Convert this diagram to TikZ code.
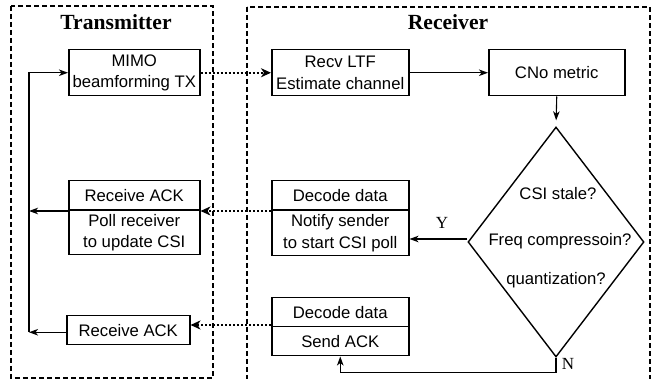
\documentclass[tikz,border=0pt]{standalone}
\usepackage{fontspec}
\setmainfont{Liberation Serif}
\newfontfamily\helv{Liberation Sans}
\usetikzlibrary{arrows.meta,shapes.geometric}
\newcommand\boxfont{\helv\fontsize{16.7pt}{21.5pt}\selectfont}
\newcommand\titlefont{\bfseries\fontsize{21.6pt}{24pt}\selectfont}
\newcommand\markfont{\fontsize{17pt}{20pt}\selectfont}
\tikzset{
  panel/.style={draw, line width=1.4pt, dash pattern=on 5pt off 3pt},
  block/.style={draw, line width=1.5pt, anchor=north west, inner sep=0pt,
    align=center, font=\boxfont},
  flow/.style={line width=1.1pt, -{Stealth[length=9pt,width=6.5pt,inset=2.5pt]}},
  link/.style={line width=2pt, dash pattern=on 2pt off 2pt,
    -{Stealth[length=10pt,width=9pt,inset=3pt]}},
  tag/.style={font=\markfont, inner sep=0pt},
}
\begin{document}
\begin{tikzpicture}[x=1pt,y=-1pt]
\useasboundingbox (0,0) rectangle (654,379);

% the two sides of the link
\draw[panel] (11,6) rectangle (213,378);
\draw[panel] (247,7) rectangle (650,392);
\node[font=\titlefont, anchor=base] (ttx) at (116,30) {Transmitter};
\node[font=\titlefont, anchor=base] (trx) at (448,30) {Receiver};

% transmitter blocks
\node[block, minimum width=131pt, minimum height=46pt] (mimo) at (68,49) {MIMO\\beamforming TX};
\node[block, minimum width=131pt, minimum height=29.5pt] (rack) at (68,180) {Receive ACK};
\node[block, minimum width=131pt, minimum height=44.5pt] (poll) at (68,209.5) {Poll receiver\\to update CSI};
\node[block, minimum width=123pt, minimum height=29pt] (ack) at (66,315) {Receive ACK};

% receiver blocks
\node[block, minimum width=137pt, minimum height=46pt] (recv) at (271,49) {Recv LTF\\Estimate channel};
\node[block, minimum width=136pt, minimum height=46pt] (cno) at (488,49) {CNo metric};
\node[block, minimum width=137pt, minimum height=29.5pt] (deca) at (271,180) {Decode data};
\node[block, minimum width=137pt, minimum height=45.5pt] (note) at (271,209.5) {Notify sender\\to start CSI poll};
\node[block, minimum width=137pt, minimum height=29pt] (decb) at (271,297) {Decode data};
\node[block, minimum width=137pt, minimum height=29pt] (send) at (271,326) {Send ACK};

% decision
\node[diamond, draw, line width=1.4pt, minimum width=176pt, minimum height=230pt,
  inner sep=0pt] (dec) at (556,242) {};
\node[font=\boxfont, inner sep=0pt] (q1) at (558,194) {CSI stale?};
\node[font=\boxfont, inner sep=0pt] (q2) at (560,241) {Freq compressoin?};
\node[font=\boxfont, inner sep=0pt] (q3) at (556,280) {quantization?};

% receiver flow
\draw[flow] (recv.east) -- (cno.west);
\draw[flow, shorten >=6pt] (cno.south) -- (dec.north);
\draw[flow] ([yshift=3pt]dec.west) -- ([yshift=3pt]dec.west -| note.east);
\node[tag] (yes) at (442,223) {Y};
\draw[flow] (dec.south) -- ++(0,15) -| (send.south);
\node[tag] (no) at (568,364) {N};

% over-the-air messages
\draw[link] (mimo.east) -- (recv.west);
\draw[link] (deca.south west) -- (rack.south east);
\draw[link] ([yshift=1pt]send.north west) -- ([yshift=1pt]send.north west -| ack.east);

% transmitter loop back to beamforming
\coordinate (rail) at (29,0);
\draw[flow] (rack.south west) -- (rack.south west -| rail);
\draw[flow] ([yshift=-2pt]ack.west) -- ([yshift=-2pt]ack.west -| rail);
\draw[flow] ([yshift=-2pt]ack.west -| rail) |- (mimo.west);
\end{tikzpicture}
\end{document}
